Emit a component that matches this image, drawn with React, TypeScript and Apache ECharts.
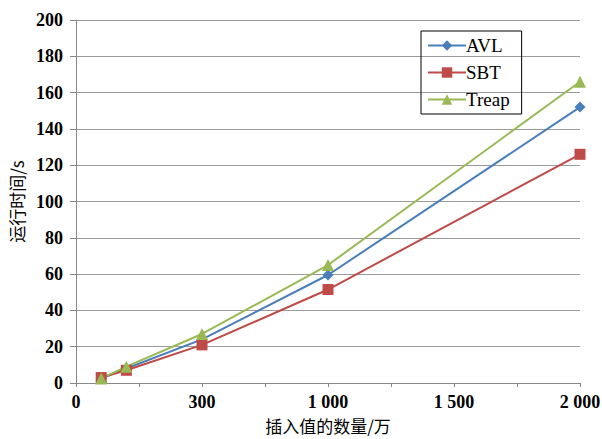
import React, { useEffect, useRef } from "react";
import * as echarts from "echarts";

const xValues = [100, 200, 500, 1000, 2000];
const avl = [2.5, 8, 24, 59.5, 152];
const sbt = [3, 7, 21, 51.5, 126];
const treap = [2.5, 9, 27, 65, 166];
const xTickLabels: Record<number, string> = { 0: "0", 500: "300", 1000: "1 000", 1500: "1 500", 2000: "2 000" };
const yTitle = "运行时间/s";
const xTitle = "插入值的数量/万";

export default function App() {
  const ref = useRef<HTMLDivElement>(null);
  useEffect(() => {
    const chart = echarts.init(ref.current!, undefined, { renderer: "svg" });
    const serif = "'Liberation Serif', 'Times New Roman', serif";
    const cjk = "'Noto Sans CJK SC', sans-serif";
    const mk = (vals: number[]) => xValues.map((x, i) => [x, vals[i]]);
    chart.setOption({
      animation: false,
      backgroundColor: "#fff",
      grid: { left: 76, right: 22, top: 20, bottom: 56, containLabel: false, outerBoundsMode: "none" },
      legend: {
        orient: "vertical",
        left: 421,
        top: 31,
        padding: [5, 12, 5, 6],
        borderColor: "#000",
        borderWidth: 1,
        itemWidth: 38,
        itemHeight: 13,
        itemGap: 8,
        textStyle: { fontFamily: serif, fontSize: 19, color: "#000", padding: [0, 0, 0, -5] },
        data: ["AVL", "SBT", "Treap"],
      },
      xAxis: {
        type: "value",
        min: 0,
        max: 2000,
        interval: 250,
        name: xTitle,
        nameLocation: "middle",
        nameGap: 34,
        nameTextStyle: { fontFamily: cjk, fontSize: 17, color: "#000" },
        axisLine: { lineStyle: { color: "#888" } },
        axisTick: { show: true, length: 4, lineStyle: { color: "#888" } },
        axisLabel: {
          formatter: (v: number) => (xTickLabels[v] !== undefined ? xTickLabels[v] : ""),
          fontFamily: serif,
          fontWeight: "bold",
          fontSize: 18,
          color: "#000",
          margin: 10,
        },
        splitLine: { show: false },
      },
      yAxis: {
        type: "value",
        min: 0,
        max: 200,
        interval: 20,
        name: yTitle,
        nameLocation: "middle",
        nameGap: 47,
        nameRotate: 90,
        nameTextStyle: { fontFamily: cjk, fontSize: 17, color: "#000" },
        axisLine: { show: true, lineStyle: { color: "#888" } },
        axisTick: { show: true, length: 6, lineStyle: { color: "#888" } },
        axisLabel: { fontFamily: serif, fontWeight: "bold", fontSize: 18, color: "#000", margin: 13 },
        splitLine: { show: true, lineStyle: { color: "#9a9a9a", width: 1 } },
      },
      series: [
        {
          name: "AVL",
          type: "line",
          data: mk(avl),
          symbol: "diamond",
          symbolSize: 11,
          lineStyle: { color: "#4a7ebb", width: 2 },
          itemStyle: { color: "#4a7ebb" },
        },
        {
          name: "SBT",
          type: "line",
          data: mk(sbt),
          symbol: "rect",
          symbolSize: 11,
          lineStyle: { color: "#be4b48", width: 2 },
          itemStyle: { color: "#be4b48" },
        },
        {
          name: "Treap",
          type: "line",
          data: mk(treap),
          symbol: "triangle",
          symbolSize: 12,
          lineStyle: { color: "#98b954", width: 2 },
          itemStyle: { color: "#98b954" },
        },
      ],
    });
    return () => chart.dispose();
  }, []);
  return <div ref={ref} style={{ width: 602, height: 439, position: "absolute", left: 0, top: 0 }} />;
}
